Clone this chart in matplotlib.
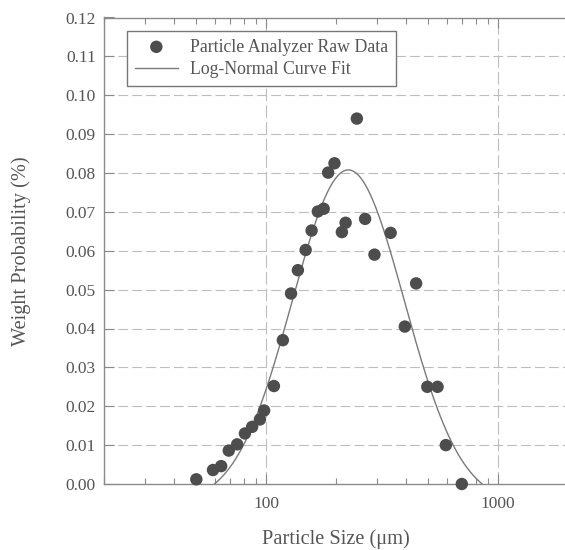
import numpy as np
import matplotlib
matplotlib.use("Agg")
import matplotlib.pyplot as plt
from matplotlib.ticker import LogLocator, FixedLocator, NullFormatter, FixedFormatter

# Raw particle-analyzer measurements: size (um) and weight probability (%)
particle_size = [50, 59, 64, 69, 75, 81, 87, 94, 98, 108,
                 118, 128, 137, 148, 157, 167, 177, 185, 197, 212,
                 220, 246, 267, 293, 344, 396, 443, 495, 548, 595, 697]
weight_prob = [0.0012, 0.0036, 0.0046, 0.0086, 0.0102, 0.0130, 0.0147, 0.0166, 0.0189, 0.0252,
               0.0370, 0.0490, 0.0550, 0.0602, 0.0652, 0.0701, 0.0708, 0.0801, 0.0825, 0.0648,
               0.0672, 0.0940, 0.0682, 0.0590, 0.0646, 0.0405, 0.0516, 0.0250, 0.0250, 0.0100, 0.0000]

# Log-normal fit parameters: y = y0 + A * exp(-(log10(x/xc))^2 / (2 w^2))
fit_y0 = -0.005
fit_A = 0.0858
fit_xc = 226.0
fit_w = 0.242

y_ticks = [0.00, 0.01, 0.02, 0.03, 0.04, 0.05, 0.06, 0.07, 0.08, 0.09, 0.10, 0.11, 0.12]
x_major = [100, 1000]
x_major_labels = ["100", "1000"]

TEXT = "#555555"
AXC = "#8a8a8a"
GRID = "#bdbdbd"

plt.rcParams["font.family"] = ["Liberation Serif", "DejaVu Serif"]
plt.rcParams["lines.scale_dashes"] = False

fig = plt.figure(figsize=(5.65, 5.5), dpi=100)
ax = fig.add_axes([104 / 565, 66 / 550, 464 / 565, 466.5 / 550])

ax.set_xscale("log")
ax.set_xlim(20, 2000)
ax.set_ylim(0, 0.12)

# grid
for yv in y_ticks[1:-1]:
    ax.axhline(yv, color=GRID, lw=0.8, ls=(0, (7, 3)), zorder=0)
for xv in x_major:
    ax.axvline(xv, color=GRID, lw=0.8, ls=(0, (9, 3)), zorder=0)

# fitted curve
xs = np.logspace(np.log10(20), np.log10(2000), 600)
ys = fit_y0 + fit_A * np.exp(-(np.log10(xs / fit_xc)) ** 2 / (2 * fit_w ** 2))
ax.plot(xs, ys, color="#7a7a7a", lw=1.0, label="Log-Normal Curve Fit", zorder=2)

# raw data
ax.scatter(particle_size, weight_prob, s=80, color="#4d4d4d", edgecolors="none",
           label="Particle Analyzer Raw Data", zorder=3, clip_on=False)

# ticks
ax.xaxis.set_major_locator(FixedLocator(x_major))
ax.xaxis.set_major_formatter(FixedFormatter(x_major_labels))
ax.xaxis.set_minor_locator(LogLocator(base=10, subs=np.arange(2, 10)))
ax.xaxis.set_minor_formatter(NullFormatter())
ax.set_yticks(y_ticks)
ax.set_yticklabels([f"{v:.2f}" for v in y_ticks])

ax.tick_params(axis="both", which="both", direction="in", colors=AXC,
               labelcolor=TEXT, labelsize=12.5)
ax.tick_params(axis="x", which="both", top=True, pad=9)
ax.tick_params(axis="x", which="major", length=7, width=0.8)
ax.tick_params(axis="x", which="minor", length=4, width=0.8)
ax.tick_params(axis="y", which="major", length=7, width=0.8, pad=6)

for side in ["left", "bottom", "top"]:
    ax.spines[side].set_color(AXC)
    ax.spines[side].set_linewidth(1.0)
ax.spines["right"].set_visible(False)

ax.set_xlabel("Particle Size (\u03bcm)", fontsize=14.7, color=TEXT, labelpad=12)
ax.set_ylabel("Weight Probability (%)", fontsize=14.7, color=TEXT, labelpad=25)

handles, labels = ax.get_legend_handles_labels()
leg = ax.legend(handles[::-1], labels[::-1], loc="upper left",
                bbox_to_anchor=(23 / 464, 453.5 / 466.5), borderaxespad=0,
                fontsize=12.8, frameon=True, fancybox=False, framealpha=1,
                edgecolor="#777777", handlelength=2.4, handletextpad=0.7,
                labelspacing=0.3, borderpad=0.45, scatterpoints=1)
leg.get_frame().set_linewidth(1.0)
for t in leg.get_texts():
    t.set_color(TEXT)

fig.savefig("out.png", dpi=100)
